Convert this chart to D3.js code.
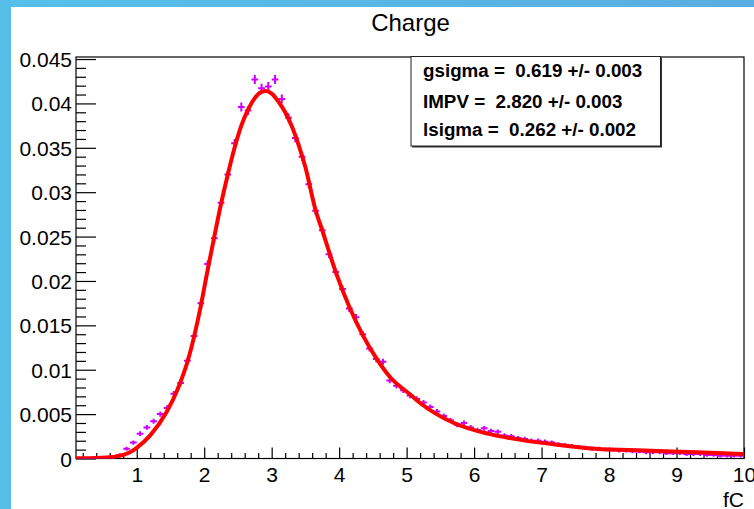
<html>
<head>
<script src="https://d3js.org/d3.v7.min.js"></script>
<style>
  body { margin: 0; background: #fff; }
  svg { display: block; font-family: "Liberation Sans", Arial, sans-serif; }
</style>
</head>
<body>
<script>
  // histogram: 99 bins of 0.1 starting at 0.1
  const binStart = 0.1;
  const binWidth = 0.1;
  const binContent = [
    0.00001, 0.00001, 0.00002, 0.00003, 0.00005, 0.0001, 0.0004, 0.0011, 0.0018,
    0.0028, 0.0035, 0.0042, 0.0050, 0.0057, 0.0073, 0.0085, 0.0110, 0.0138, 0.0175,
    0.0219, 0.0248, 0.0288, 0.0320, 0.0355, 0.0396, 0.0392, 0.0427, 0.0417, 0.0419,
    0.0427, 0.0405, 0.0384, 0.0361, 0.0340, 0.0309, 0.0279, 0.0257, 0.0230, 0.0210,
    0.0191, 0.0169, 0.0159, 0.0140, 0.0124, 0.0112, 0.0109, 0.0088, 0.0082, 0.0077,
    0.0071, 0.0067, 0.0063, 0.0058, 0.0053, 0.0048, 0.0043, 0.0038, 0.0040, 0.0035,
    0.0032, 0.0034, 0.0031, 0.0030, 0.0026, 0.0025, 0.0023, 0.0022, 0.0020, 0.0020,
    0.0019, 0.0018, 0.0016, 0.0015, 0.0014, 0.0013, 0.0012, 0.0011, 0.0011, 0.0010,
    0.0010, 0.0009, 0.0009, 0.0008, 0.0008, 0.0007, 0.0007, 0.0007, 0.0006, 0.0006,
    0.0006, 0.0005, 0.0005, 0.0005, 0.0004, 0.0004, 0.0003, 0.0003, 0.0003, 0.0003
  ];

  // fitted curve
  const fitX = [0.1, 0.4, 0.6, 0.8, 0.9, 1.0, 1.2, 1.44, 1.6, 1.76, 1.95, 2.05, 2.15, 2.25,
    2.35, 2.45, 2.55, 2.65, 2.75, 2.85, 2.92, 3.0, 3.1, 3.2, 3.3, 3.4, 3.5, 3.65, 3.75,
    3.95, 4.15, 4.35, 4.55, 4.75, 5.07, 5.21, 5.7, 6.2, 6.69, 7.18, 7.8, 8.52, 9.31, 10];
  const fitY = [0.00003, 0.00006, 0.00013, 0.0004, 0.0007, 0.0012, 0.0026, 0.0052, 0.0077,
    0.0111, 0.0172, 0.0212, 0.0250, 0.0287, 0.0320, 0.0350, 0.0375, 0.0393, 0.0406, 0.0413,
    0.0414, 0.0411, 0.0402, 0.0390, 0.0374, 0.0353, 0.0328, 0.0280, 0.0257, 0.0210, 0.0171,
    0.0139, 0.0113, 0.0092, 0.0071, 0.0062, 0.0040, 0.0028, 0.0021, 0.0016, 0.0011, 0.0009,
    0.0007, 0.0005];

  const xTicks = [1, 2, 3, 4, 5, 6, 7, 8, 9, 10];
  const xTickLabels = ["1", "2", "3", "4", "5", "6", "7", "8", "9", "10"];
  const yTicks = [0, 0.005, 0.01, 0.015, 0.02, 0.025, 0.03, 0.035, 0.04, 0.045];
  const yTickLabels = ["0", "0.005", "0.01", "0.015", "0.02", "0.025", "0.03", "0.035", "0.04", "0.045"];
  const statLines = ["gsigma =  0.619 +/- 0.003", "IMPV =  2.820 +/- 0.003", "lsigma =  0.262 +/- 0.002"];

  const W = 754, H = 509;
  const frameL = 76, frameR = 744, frameT = 57, frameB = 458.5;

  const svg = d3.select("body").append("svg")
      .attr("width", W)
      .attr("height", H);

  // blue window edge
  const grad = svg.append("defs").append("linearGradient")
      .attr("id", "edge").attr("x1", "0").attr("x2", "1");
  grad.append("stop").attr("offset", "0").attr("stop-color", "#55c0ea");
  grad.append("stop").attr("offset", "1").attr("stop-color", "#5aade2");
  svg.append("rect").attr("width", W).attr("height", 7).attr("fill", "url(#edge)");
  svg.append("rect").attr("width", 11).attr("height", H).attr("fill", "#56bfe9");

  let x = d3.scaleLinear().domain([0.1, 10]).range([frameL, frameR]);
  let y = d3.scaleLinear().domain([0, 0.04523]).range([frameB, frameT]);

  svg.append("clipPath").attr("id", "frame")
    .append("rect").attr("x", frameL).attr("y", frameT)
    .attr("width", frameR - frameL).attr("height", frameB - frameT);

  // minor ticks
  let xMinor = d3.range(2, 100, 2).map(d => d / 10).filter(d => xTicks.indexOf(d) < 0 && d > 0.1);
  let yMinor = d3.range(1, 46).filter(d => d % 5 != 0).map(d => d / 1000);

  svg.append("g")
      .attr("transform", `translate(0,${frameB})`)
      .call(d3.axisBottom(x).tickValues(xMinor).tickSize(-5.5).tickFormat(""))
      .call(g => g.select(".domain").remove());
  svg.append("g")
      .attr("transform", `translate(${frameL},0)`)
      .call(d3.axisLeft(y).tickValues(yMinor).tickSize(-10).tickFormat(""))
      .call(g => g.select(".domain").remove());

  // major ticks + labels
  svg.append("g")
      .attr("transform", `translate(0,${frameB})`)
      .call(d3.axisBottom(x).tickValues(xTicks).tickSize(-11).tickPadding(9)
        .tickFormat((d, i) => xTickLabels[i]))
      .call(g => g.select(".domain").remove())
      .call(g => g.selectAll("text").attr("font-size", 21).attr("fill", "#000")
        .attr("font-family", "Liberation Sans, Arial, sans-serif"));
  svg.append("g")
      .attr("transform", `translate(${frameL},0)`)
      .call(d3.axisLeft(y).tickValues(yTicks).tickSize(-20).tickPadding(4)
        .tickFormat((d, i) => yTickLabels[i]))
      .call(g => g.select(".domain").remove())
      .call(g => g.selectAll("text").attr("font-size", 21).attr("fill", "#000")
        .attr("dy", "0.36em").attr("x", -4)
        .attr("font-family", "Liberation Sans, Arial, sans-serif"));
  svg.selectAll(".tick line").attr("stroke", "#000").attr("stroke-width", 1.2);

  // frame
  svg.append("rect")
      .attr("x", frameL).attr("y", frameT)
      .attr("width", frameR - frameL).attr("height", frameB - frameT)
      .attr("fill", "none").attr("stroke", "#000").attr("stroke-width", 1.2);

  // data points with error bars
  let pts = svg.append("g").attr("clip-path", "url(#frame)")
      .attr("stroke", "#cc00ff").attr("stroke-width", 2);
  binContent.forEach((v, i) => {
    let lo = binStart + i * binWidth;
    let cx = x(lo + binWidth / 2);
    let cy = y(v);
    let e = 1.5 + 3 * Math.sqrt(v / 0.042);
    pts.append("line").attr("x1", x(lo)).attr("x2", x(lo + binWidth)).attr("y1", cy).attr("y2", cy);
    pts.append("line").attr("x1", cx).attr("x2", cx).attr("y1", cy - e).attr("y2", cy + e);
  });

  // fit curve
  let line = d3.line()
      .x((d, i) => x(fitX[i]))
      .y(d => y(d))
      .curve(d3.curveMonotoneX);
  svg.append("path")
      .datum(fitY)
      .attr("clip-path", "url(#frame)")
      .attr("d", line)
      .attr("fill", "none")
      .attr("stroke", "#ff0000")
      .attr("stroke-width", 4);

  // title and axis title
  svg.append("text")
      .attr("x", 410.5).attr("y", 30.5)
      .attr("text-anchor", "middle").attr("font-size", 24)
      .text("Charge");
  svg.append("text")
      .attr("x", 744).attr("y", 507)
      .attr("text-anchor", "end").attr("font-size", 21)
      .text("fC");

  // stats box
  svg.append("rect")
      .attr("x", 412).attr("y", 57.5).attr("width", 250).attr("height", 90)
      .attr("fill", "#333");
  svg.append("rect")
      .attr("x", 411).attr("y", 56.5).attr("width", 249.5).attr("height", 89.5)
      .attr("fill", "#fff").attr("stroke", "#222").attr("stroke-width", 1);
  let statY = [77, 108, 136];
  statLines.forEach((s, i) => {
    svg.append("text")
        .attr("x", 423).attr("y", statY[i])
        .attr("font-size", 18.8).attr("font-weight", "bold")
        .style("white-space", "pre")
        .text(s);
  });
</script>
</body>
</html>
